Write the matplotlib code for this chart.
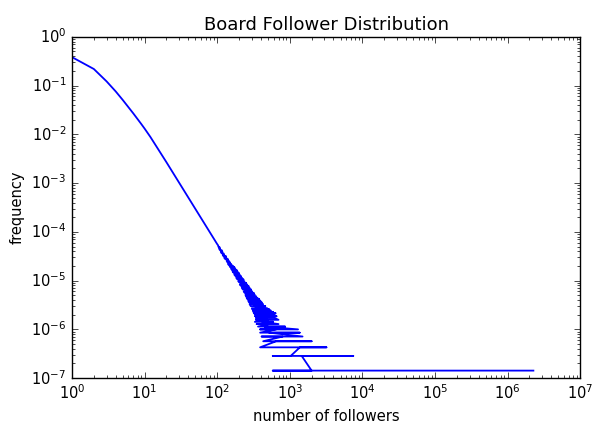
#!/usr/bin/env python
# coding: utf-8

# Board follower distribution on log-log axes (frequency of each follower count)

import numpy             as np
import matplotlib        as mpl
import matplotlib.pyplot as plt


# Number of boards used to normalise the counts
total_boards = 7000000

# Head of the distribution: follower count -> number of boards
head_followers = [1, 2, 3, 4, 5, 6, 7, 8, 9, 10, 12, 15, 20, 25, 30, 40, 50,
                  60, 70, 80, 90, 100]
head_counts    = [2680000, 1530000, 851000, 531000, 355000, 252000, 187600,
                  144300, 114000, 91900, 62100, 36900, 18760, 10970, 7080,
                  3550, 2075, 1340, 925, 672, 507, 393]

# Tail: rows come sorted by count, so boards sharing a count sit side by side
tail_counts    = [370, 345, 320, 296, 275, 255, 238, 222, 206, 192, 178, 165,
                  153, 142, 133, 124, 115, 107, 100, 93, 86, 80, 74, 68, 63,
                  58, 54, 50, 46, 42, 39, 36, 33, 31, 29, 27, 25, 23, 21, 19,
                  18, 17, 16, 15, 14, 13, 12, 11, 10, 9, 8, 7, 6, 5, 4, 3, 2, 1]
tail_followers = [
    [103], [104, 107], [110, 106], [109, 115], [118, 112], [115, 122],
    [125, 119], [122, 131, 126], [134, 125], [130, 140, 133], [145, 135],
    [139, 150, 143], [156, 141], [147, 163, 152], [150, 172, 158],
    [178, 155], [160, 185, 168], [192, 163], [170, 198, 178], [205, 172],
    [180, 212, 190], [220, 183], [190, 230, 200], [238, 195],
    [206, 250, 215], [260, 205], [215, 270, 228], [280, 218],
    [226, 292, 240], [305, 232], [240, 318, 255], [330, 245],
    [250, 345, 268], [360, 255], [262, 380, 290], [395, 268],
    [275, 410, 300], [430, 280], [290, 460, 320], [490, 300],
    [305, 520, 350], [550, 310], [315, 590, 380], [640, 320, 450],
    [330, 600], [660, 335, 480], [340, 620], [700, 345, 500],
    [330, 590, 420], [700, 350, 520], [365, 860, 450], [1300, 390, 650],
    [390, 1370, 520], [1500, 410, 800], [430, 2000, 650],
    [390, 3200, 1380], [1030, 583, 7500, 1460], [2000, 583, 2270000],
]

x_decades = [1e0, 1e1, 1e2, 1e3, 1e4, 1e5, 1e6, 1e7]
y_decades = [1e-7, 1e-6, 1e-5, 1e-4, 1e-3, 1e-2, 1e-1, 1e0]


# Flatten head + tail in the order the rows were stored
followers = list(head_followers)
counts    = list(head_counts)
for k, xs in zip(tail_counts, tail_followers):
    followers += xs
    counts    += [k] * len(xs)

freq = np.array(counts, dtype=float) / total_boards


plt.style.use('classic')
mpl.rcParams['mathtext.fontset'] = 'dejavusans'
mpl.rcParams['font.family'] = 'DejaVu Sans'

fig = plt.figure(figsize=(5.95, 4.23), dpi=100, facecolor='white')
ax = fig.add_axes([0.121, 0.106, 0.854, 0.807])

ax.plot(followers, freq, color='#0000ff', linewidth=1.3)
ax.set_xscale('log')
ax.set_yscale('log')
ax.set_xticks(x_decades)
ax.set_yticks(y_decades)
ax.set_xlim(1, 1e7)
ax.set_ylim(1e-7, 1)

ax.set_title("Board Follower Distribution", fontsize=13)
ax.set_xlabel("number of followers", fontsize=10.5)
ax.set_ylabel("frequency", fontsize=10.5)
ax.tick_params(labelsize=10.5)

plt.savefig("out.png", dpi=100, facecolor='white')
